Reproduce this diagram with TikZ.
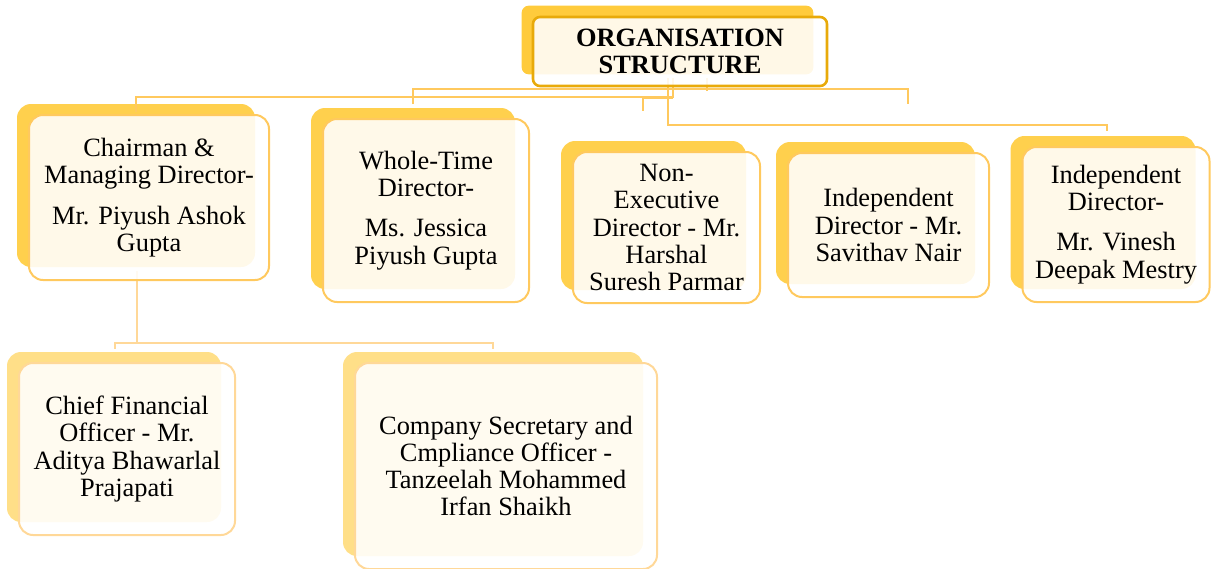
\documentclass[tikz,border=0pt]{standalone}
\usepackage{fontspec}
\setmainfont{Liberation Serif}
\usepackage{tikz}
\pgfdeclarelayer{shade}
\pgfdeclarelayer{links}
\pgfsetlayers{shade,links,main}
\definecolor{sunhead}{HTML}{FFCB3C}
\definecolor{sunone}{HTML}{FFD04D}
\definecolor{suntwo}{HTML}{FFDF88}
\definecolor{headline}{HTML}{E8AA0A}
\definecolor{lineone}{HTML}{FFC95E}
\definecolor{linetwo}{HTML}{FFD898}
\tikzset{
    post/.style={rectangle,rounded corners=14pt,draw=lineone,line width=2pt,fill=white,fill opacity=0.88,text opacity=1,
        align=center,inner sep=0pt,font=\fontsize{26.4}{27.3}\selectfont},
    headpost/.style={post,rounded corners=7pt,draw=headline,line width=2.6pt,font=\fontsize{26.4}{27.3}\selectfont\bfseries},
    staff/.style={post,draw=linetwo},
    link/.style={draw=lineone,line width=2pt},
    sublink/.style={draw=linetwo,line width=2pt},
    }

\begin{document}
\begin{tikzpicture}[x=1pt,y=-1pt]
    \useasboundingbox (0,0) rectangle (1211,568);
    \node[headpost,minimum width=294pt,minimum height=69pt] (org) at (680,51.5) {ORGANISATION\\STRUCTURE};

    \node[post,minimum width=240pt,minimum height=165pt] (chair) at (149,197.5) {Chairman \&\\Managing Director-\\[13pt]Mr. Piyush Ashok\\Gupta};
    \node[post,minimum width=206pt,minimum height=183pt] (whole) at (426,210.5) {Whole-Time\\Director-\\[13pt]Ms. Jessica\\Piyush Gupta};
    \node[post,minimum width=187pt,minimum height=151pt] (nonex) at (666.5,227.5) {Non-\\Executive\\Director - Mr.\\Harshal\\Suresh Parmar};
    \node[post,minimum width=201pt,minimum height=144pt] (inda) at (888.5,225) {Independent\\Director - Mr.\\Savithav Nair};
    \node[post,minimum width=187pt,minimum height=155pt] (indb) at (1116,224.5) {Independent\\Director-\\[13pt]Mr. Vinesh\\Deepak Mestry};

    \node[staff,minimum width=216pt,minimum height=172pt] (cfo) at (127,449) {Chief Financial\\Officer - Mr.\\Aditya Bhawarlal\\Prajapati};
    \node[staff,minimum width=302pt,minimum height=206pt] (cs) at (506,466) {Company Secretary and\\Cmpliance Officer -\\Tanzeelah Mohammed\\Irfan Shaikh};

    % shadows behind the boxes
    \begin{pgfonlayer}{shade}
        \fill[sunhead,rounded corners=7pt] ([shift={(-10pt,10pt)}]org.north west) rectangle ([shift={(-15pt,13pt)}]org.south east);
        \foreach \n in {chair,whole,nonex,inda,indb}
            \fill[sunone,rounded corners=14pt] ([shift={(-11pt,10pt)}]\n.north west) rectangle ([shift={(-15pt,14pt)}]\n.south east);
        \foreach \n in {cfo,cs}
            \fill[suntwo,rounded corners=14pt] ([shift={(-11pt,10pt)}]\n.north west) rectangle ([shift={(-15pt,14pt)}]\n.south east);
    \end{pgfonlayer}

    \begin{pgfonlayer}{links}
        \draw[link] ([xshift=-7pt,yshift=9pt]org.south) |- ([xshift=-13pt,yshift=17pt]chair.north) -- ([xshift=-13pt,yshift=2pt]chair.north);
        \draw[link] ([xshift=27pt,yshift=9pt]org.south) -- ++(0,13);
        \draw[link] ([xshift=-13pt,yshift=14pt]whole.north) -- ++(0,-15) -| ([xshift=19.5pt,yshift=48pt]inda.north);
        \draw[link] ([xshift=-7pt,yshift=-10.5pt]org.south) -| ([xshift=-23.5pt,yshift=40pt]nonex.north);
        \draw[link] ([xshift=-12pt,yshift=9pt]org.south) -- ++(0,47) -| ([xshift=-9pt,yshift=15pt]indb.north);

        \draw[sublink] ([xshift=-12pt,yshift=10pt]chair.south) -- ++(0,72) -| ([xshift=-12pt,yshift=13pt]cfo.north);
        \draw[sublink] ([xshift=-12pt,yshift=10pt]chair.south) ++(0,72) -| ([xshift=-13pt,yshift=13pt]cs.north);
    \end{pgfonlayer}
\end{tikzpicture}
\end{document}
